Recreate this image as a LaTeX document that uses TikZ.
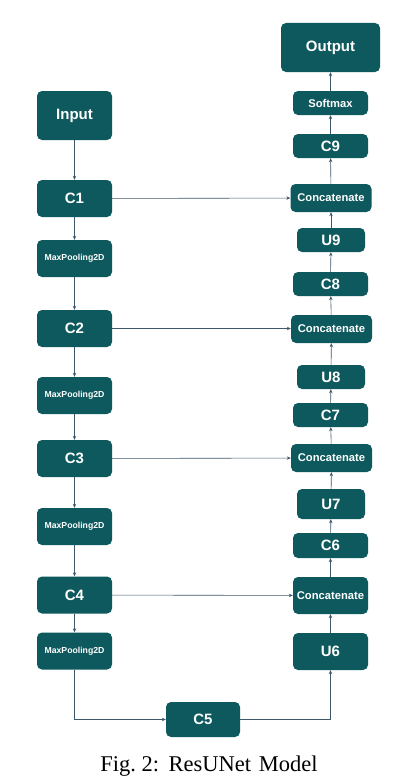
\documentclass[tikz,border=0pt]{standalone}
\usepackage{fontspec}
\setmainfont{Liberation Serif}
\setsansfont{Liberation Sans}
\usetikzlibrary{arrows.meta, positioning}
\definecolor{layerteal}{RGB}{14,89,94}
\definecolor{linkgray}{RGB}{62,88,106}

\begin{document}
\begin{tikzpicture}[
  x=1pt, y=-1pt,
  layer/.style={rectangle, fill=layerteal, rounded corners=5pt, text=white,
                font=\sffamily\bfseries\fontsize{15}{18}\selectfont,
                inner sep=0pt, minimum width=75pt, minimum height=37pt},
  pool/.style={layer, font=\sffamily\bfseries\fontsize{8.7}{10}\selectfont},
  slim/.style={layer, minimum height=24pt},
  upsm/.style={slim, minimum width=68pt},
  cat/.style={layer, minimum width=81pt, minimum height=28pt,
              font=\sffamily\bfseries\fontsize{11.2}{13}\selectfont},
  arr/.style={-{Stealth[length=4pt, width=3.4pt]}, draw=linkgray, line width=0.6pt},
]
  \useasboundingbox[fill=white] (0,0) rectangle (409,784);

  % encoder
  \node[layer, minimum height=49pt] (in) at (74.5,115.5) {Input};
  \node[layer] (c1) at (74.5,198.5) {C1};
  \node[pool] (p1) at (74.5,258.5) {MaxPooling2D};
  \node[layer] (c2) at (74.5,328.5) {C2};
  \node[pool] (p2) at (74.5,395.5) {MaxPooling2D};
  \node[layer] (c3) at (74.5,458.5) {C3};
  \node[pool] (p3) at (74.5,526.5) {MaxPooling2D};
  \node[layer] (c4) at (74.5,595) {C4};
  \node[pool] (p4) at (74.5,651) {MaxPooling2D};
  \node[layer, minimum width=74pt, minimum height=35pt] (c5) at (203,719.5) {C5};

  % decoder
  \node[layer] (u6) at (330.5,651.5) {U6};
  \node[cat, minimum width=75pt, minimum height=37pt] (k4) at (330.5,595.5) {Concatenate};
  \node[slim, minimum height=25pt] (c6) at (330.5,545.5) {C6};
  \node[upsm, minimum height=30pt] (u7) at (331,504) {U7};
  \node[cat] (k3) at (331.5,458) {Concatenate};
  \node[slim] (c7) at (330.5,415) {C7};
  \node[upsm] (u8) at (331,377) {U8};
  \node[cat] (k2) at (331.5,329) {Concatenate};
  \node[slim] (c8) at (330.5,284) {C8};
  \node[upsm] (u9) at (331,240) {U9};
  \node[cat] (k1) at (331,198) {Concatenate};
  \node[slim] (c9) at (330.5,146) {C9};
  \node[slim, font=\sffamily\bfseries\fontsize{11.2}{13}\selectfont] (sm) at (330.5,103) {Softmax};
  \node[layer, minimum width=99pt, minimum height=49pt] (out) at (330.5,47.5) {Output};

  \coordinate (bl) at (74.5,719.5);
  \coordinate (br) at (330.5,719.5);

  % down path
  \draw[arr] (in) -- (c1);
  \draw[arr] (c1) -- (p1);
  \draw[arr] (p1) -- (c2);
  \draw[arr] (c2) -- (p2);
  \draw[arr] (p2) -- (c3);
  \draw[arr] (c3) -- (p3);
  \draw[arr] (p3) -- (c4);
  \draw[arr] (c4) -- (p4);
  \draw[arr] (p4) -- (bl) -- (c5);
  \draw[arr] (c5) -- (br) -- (u6);

  % skip links
  \draw[arr] (c1) -- (k1);
  \draw[arr] (c2) -- (c2 -| k2.west);
  \draw[arr] (c3) -- (k3);
  \draw[arr] (c4) -- (k4);

  % up path
  \draw[arr] (u6) -- (k4);
  \draw[arr] (k4) -- (c6);
  \draw[arr] (c6) -- (u7);
  \draw[arr] (u7) -- (k3);
  \draw[arr] (k3) -- (c7);
  \draw[arr] (c7) -- (u8);
  \draw[arr] (u8) -- (k2);
  \draw[arr] (k2) -- (c8);
  \draw[arr] (c8) -- (u9);
  \draw[arr] (u9) -- (k1);
  \draw[arr] (k1) -- (c9);
  \draw[arr] (c9) -- (sm);
  \draw[arr] (sm) -- (out);

  \node[font=\fontsize{22.5}{26}\selectfont] (cap) at (209,766)
    {Fig.\ 2:\hspace{2pt} ResUNet\hspace{2pt} Model};
\end{tikzpicture}
\end{document}
